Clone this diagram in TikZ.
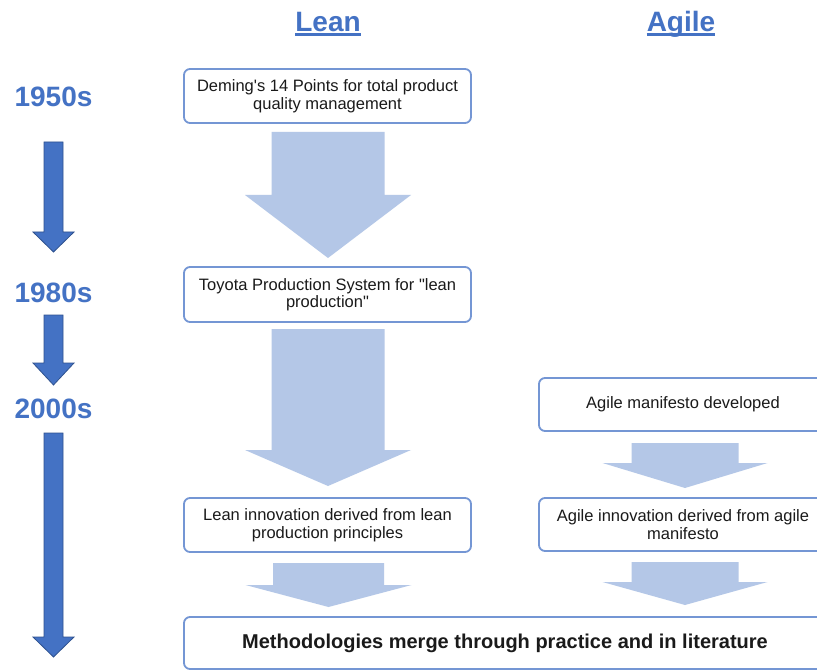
\documentclass[tikz,border=0pt]{standalone}
\usepackage{fontspec}
\setmainfont{Liberation Sans}
\definecolor{titleblue}{HTML}{4472C4}
\definecolor{darkborder}{HTML}{2F528F}
\definecolor{lightarrow}{HTML}{B4C7E7}
\definecolor{boxblue}{HTML}{7496D4}
\definecolor{boxtext}{HTML}{1A1A1A}
\newcommand{\blockarrow}[7]{%
  \path[#1] ({#2-#3},#5) -- ({#2+#3},#5) -- ({#2+#3},#6) -- ({#2+#4},#6)
    -- (#2,#7) -- ({#2-#4},#6) -- ({#2-#3},#6) -- cycle;}
\tikzset{
  box/.style={draw=boxblue, line width=1.8pt, rounded corners=6pt, fill=white,
    minimum height=54pt, align=center, inner sep=0pt, text=boxtext,
    font=\fontsize{16.5}{17.5}\selectfont},
  leanbox/.style={box, minimum width=287pt},
  agilebox/.style={box, minimum width=288pt},
  title/.style={text=titleblue, font=\fontsize{28}{30}\selectfont\bfseries, anchor=base, inner sep=0pt},
  year/.style={text=titleblue, font=\fontsize{28}{30}\selectfont\bfseries, anchor=base, inner sep=0pt},
  darkarrow/.style={fill=titleblue, draw=darkborder, line width=0.8pt, line join=miter},
  lightarr/.style={fill=lightarrow},
  uline/.style={draw=titleblue, line width=2.2pt}
}
\begin{document}
\begin{tikzpicture}[x=1pt, y=-1pt]
\useasboundingbox (0,0) rectangle (817,671);
\clip (0,0) rectangle (817,671);
\fill[white] (0,0) rectangle (817,671);

% titles
\node[title] (lean) at (328,31.5) {Lean};
\node[title] (agile) at (681,31.5) {Agile};
\draw[uline] ([yshift=-3pt]lean.base west) -- ([yshift=-3pt]lean.base east);
\draw[uline] ([yshift=-3pt]agile.base west) -- ([yshift=-3pt]agile.base east);

% years
\node[year] (y1950) at (53.5,107) {1950s};
\node[year] (y1980) at (53.5,302) {1980s};
\node[year] (y2000) at (53.5,418) {2000s};

% timeline arrows
\blockarrow{darkarrow}{53.5}{9.5}{20.5}{142}{232}{252}
\blockarrow{darkarrow}{53.5}{9.5}{20.5}{315}{363}{385}
\blockarrow{darkarrow}{53.5}{9.5}{20.5}{433}{637}{657}

% lean block arrows
\blockarrow{lightarr}{328}{56.5}{83}{132}{195}{258}
\blockarrow{lightarr}{328}{56.5}{83}{329}{450}{486}
\blockarrow{lightarr}{328.5}{55.5}{83}{563}{585}{607}

% agile block arrows
\blockarrow{lightarr}{685}{53.5}{82.5}{443}{463}{488}
\blockarrow{lightarr}{685}{53.5}{82.5}{562}{582}{605}

% boxes
\node[leanbox] (deming) at (327.5,96) {Deming\textquotesingle s 14 Points for total product\\quality management};
\node[leanbox, minimum height=55pt] (toyota) at (327.5,294.5) {Toyota Production System for \textquotedbl lean\\production\textquotedbl};
\node[leanbox] (leaninno) at (327.5,525) {Lean innovation derived from lean\\production principles};
\node[agilebox, minimum height=53pt] (manifesto) at (683,404.5) {Agile manifesto developed};
\node[agilebox, minimum height=53pt] (agileinno) at (683,524.5) {Agile innovation derived from agile\\manifesto};
\node[box, minimum width=642pt, minimum height=52pt, font=\fontsize{20}{22}\selectfont\bfseries] (merge) at (505,643) {Methodologies merge through practice and in literature};
\end{tikzpicture}
\end{document}
